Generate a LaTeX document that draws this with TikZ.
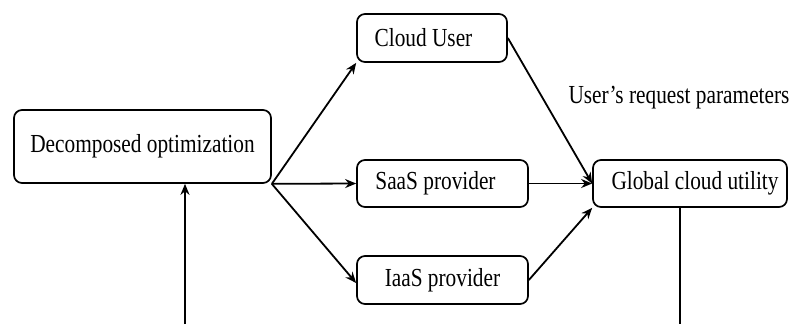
\documentclass[tikz,border=0pt]{standalone}
\usepackage{fontspec}
\setmainfont[FakeStretch=0.82]{Liberation Serif}
\usetikzlibrary{arrows.meta,calc}
\begin{document}
\begin{tikzpicture}[x=1pt,y=-1pt,
  box/.style={draw,line width=1.7pt,rounded corners=8pt,inner sep=0pt,align=center,
    font=\fontsize{26}{30}\selectfont},
  conn/.style={line width=1.8pt},
  arr/.style={conn,-{Stealth[length=11pt,width=9pt]}},
  lbl/.style={font=\fontsize{26}{30}\selectfont,inner sep=0pt}]
\useasboundingbox (0,0) rectangle (792,324);
\node[box,minimum width=257pt,minimum height=73pt] (dec) at (142.5,146.5) {Decomposed optimization};
\node[box,minimum width=150pt,minimum height=48pt] (cu) at (432,38) {Cloud User\hspace*{17pt}};
\node[box,minimum width=171pt,minimum height=47pt] (saas) at (442.5,183.5) {SaaS provider\hspace*{14pt}};
\node[box,minimum width=171pt,minimum height=48pt] (iaas) at (442.5,280) {IaaS provider};
\node[box,minimum width=194pt,minimum height=47pt] (gcu) at (690,183.5) {\hspace*{10pt}Global cloud utility};
\node[lbl] (par) at (679,98) {User’s request parameters};
\coordinate (g1) at (680,324);
\coordinate (d1) at (185,324);
\draw[arr] (dec.south east) -- (cu.south west);
\draw[arr] (dec.south east) -- (saas.west);
\draw[arr] (dec.south east) -- ($(iaas.west)+(0,3)$);
\draw[arr] (cu.east) -- (gcu.west);
\draw[arr] (saas.east) -- (gcu.west);
\draw[arr] (iaas.east) -- (gcu.south west);
\draw[conn] (g1 |- gcu.south) -- (g1);
\draw[arr] (d1) -- (d1 |- dec.south);
\end{tikzpicture}
\end{document}
